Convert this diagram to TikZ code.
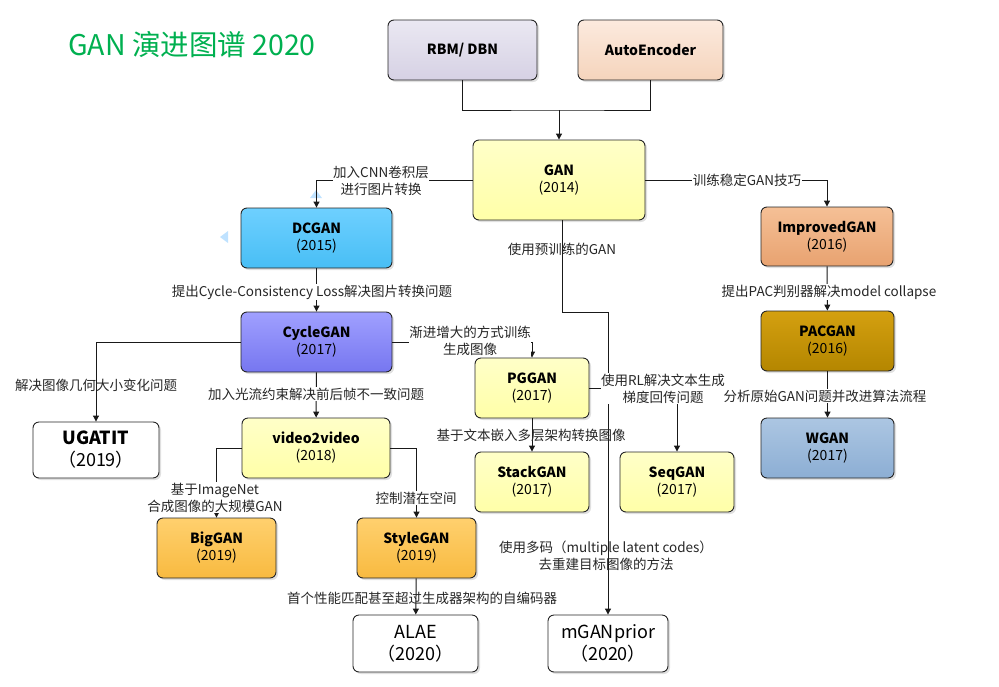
\documentclass[tikz,border=0pt]{standalone}
\usepackage{fontspec}
\setmainfont{Noto Sans CJK SC}
\usetikzlibrary{arrows.meta,shadows}
\definecolor{titlegreen}{HTML}{00B050}
\begin{document}
\begin{tikzpicture}[x=1pt,y=-1pt,
  box/.style={draw=black!85, line width=0.9pt, rounded corners=6pt, align=center, inner sep=0pt,
    font=\fontsize{14}{17}\selectfont,
    drop shadow={shadow xshift=2pt, shadow yshift=-2pt, fill=black, opacity=0.12}},
  bigbox/.style={box, font=\fontsize{18}{22}\selectfont},
  lbl/.style={font=\fontsize{13.5}{17}\selectfont, align=center, inner sep=0.5pt, text=black!85},
  wl/.style={lbl, fill=white},
  conn/.style={line width=1pt, draw=black!90},
  arr/.style={conn, -{Triangle[width=6pt,length=6pt]}},
  tri/.style={fill=blue!45!cyan!25, draw=none},
]
\useasboundingbox (0,0) rectangle (999,686);

% title
\node[font=\fontsize{28.5}{31}\selectfont, text=titlegreen, inner sep=0pt] (title) at (192,45) {GAN 演进图谱 2020};

% nodes
\node[box, top color={rgb,255:red,234;green,232;blue,242}, bottom color={rgb,255:red,214;green,209;blue,228},
  minimum width=149, minimum height=60] (rbm) at (462.5,50) {\bfseries RBM/ DBN};
\node[box, top color={rgb,255:red,252;green,234;blue,222}, bottom color={rgb,255:red,245;green,212;blue,188},
  minimum width=145, minimum height=60] (ae) at (650.5,50) {\bfseries AutoEncoder};
\node[box, top color={rgb,255:red,255;green,255;blue,200}, bottom color={rgb,255:red,255;green,255;blue,168},
  minimum width=172, minimum height=80] (gan) at (559,180) {{\bfseries GAN}\\(2014)};
\node[box, top color={rgb,255:red,110;green,208;blue,255}, bottom color={rgb,255:red,72;green,190;blue,245},
  minimum width=151, minimum height=60] (dcgan) at (316.5,238) {{\bfseries DCGAN}\\(2015)};
\node[box, top color={rgb,255:red,160;green,160;blue,255}, bottom color={rgb,255:red,118;green,118;blue,240},
  minimum width=151, minimum height=60] (cycle) at (316.5,342) {{\bfseries CycleGAN}\\(2017)};
\node[bigbox, fill=white, minimum width=126, minimum height=56] (ugatit) at (96,450) {{\bfseries UGATIT}\\（2019）};
\node[box, top color={rgb,255:red,255;green,255;blue,200}, bottom color={rgb,255:red,255;green,255;blue,168},
  minimum width=148, minimum height=60] (v2v) at (316,448) {{\bfseries video2video}\\(2018)};
\node[box, top color={rgb,255:red,255;green,208;blue,110}, bottom color={rgb,255:red,248;green,186;blue,64},
  minimum width=119, minimum height=60] (big) at (216.5,548) {{\bfseries BigGAN}\\(2019)};
\node[box, top color={rgb,255:red,255;green,208;blue,110}, bottom color={rgb,255:red,248;green,186;blue,64},
  minimum width=119, minimum height=60] (style) at (416.5,548) {{\bfseries StyleGAN}\\(2019)};
\node[bigbox, fill=white, minimum width=125, minimum height=57] (alae) at (415.5,643.5) {ALAE\\（2020）};
\node[bigbox, fill=white, minimum width=120, minimum height=57] (mgan) at (608,643.5) {mGANprior\\（2020）};
\node[box, top color={rgb,255:red,255;green,255;blue,200}, bottom color={rgb,255:red,255;green,255;blue,168},
  minimum width=114, minimum height=60] (pg) at (532,388) {{\bfseries PGGAN}\\(2017)};
\node[box, top color={rgb,255:red,255;green,255;blue,200}, bottom color={rgb,255:red,255;green,255;blue,168},
  minimum width=114, minimum height=60] (stack) at (532,482) {{\bfseries StackGAN}\\(2017)};
\node[box, top color={rgb,255:red,255;green,255;blue,200}, bottom color={rgb,255:red,255;green,255;blue,168},
  minimum width=114, minimum height=60] (seq) at (677,482) {{\bfseries SeqGAN}\\(2017)};
\node[box, top color={rgb,255:red,245;green,192;blue,150}, bottom color={rgb,255:red,232;green,162;blue,112},
  minimum width=132, minimum height=59] (impr) at (827,236.5) {{\bfseries ImprovedGAN}\\(2016)};
\node[box, top color={rgb,255:red,212;green,160;blue,16}, bottom color={rgb,255:red,180;green,134;blue,0},
  minimum width=133, minimum height=60] (pac) at (827.5,341) {{\bfseries PACGAN}\\(2016)};
\node[box, top color={rgb,255:red,172;green,198;blue,226}, bottom color={rgb,255:red,140;green,174;blue,212},
  minimum width=133, minimum height=60] (wgan) at (827.5,448) {{\bfseries WGAN}\\(2017)};

% decorative small triangles
\fill[tri] (310,198) -- (322,198) -- (316,190) -- cycle;
\fill[tri] (228,231) -- (228,243) -- (220,237) -- cycle;

% connectors
\coordinate (j) at (559,110);
\draw[conn] (rbm.south) |- (j) -| (ae.south);
\draw[arr] (j) -- (gan.north);

\draw[arr] (gan.west) -| (dcgan.north);
\node[wl] (l1) at (381,180.5) {加入CNN卷积层\\进行图片转换};

\draw[arr] (gan.east) -| (impr.north);
\node[wl] (l2) at (747,180) {训练稳定GAN技巧};

\coordinate (g1) at (562,312);
\draw[arr] ([xshift=3pt]gan.south) -- (g1) -| (mgan.north);
\node[lbl] (l3) at (562,249) {使用预训练的GAN};
\node[lbl] (l4) at (606,555.5) {使用多码（multiple latent codes）\\去重建目标图像的方法};

\draw[arr] (dcgan) -- (cycle);
\node[wl] (l5) at (312,292) {提出Cycle-Consistency Loss解决图片转换问题};

\draw[arr] (cycle.west) -| (ugatit.north);
\node[lbl] (l6) at (96,385) {解决图像几何大小变化问题};

\draw[arr] (cycle) -- (v2v);
\node[wl] (l7) at (316,394) {加入光流约束解决前后帧不一致问题};

\draw[arr] (cycle.east) -| (pg.north);
\node[wl, inner sep=0pt] (l8) at (470,341) {渐进增大的方式训练\\生成图像};

\draw[arr] (v2v.west) -| (big.north);
\node[wl] (l9) at (215,497.5) {基于ImageNet\\合成图像的大规模GAN};

\draw[arr] (v2v.east) -| (style.north);
\node[wl] (l10) at (416,498) {控制潜在空间};

\draw[arr] (style) -- (alae);
\node[lbl] (l11) at (422,598) {首个性能匹配甚至超过生成器架构的自编码器};

\draw[arr] (pg) -- (stack);
\node[lbl] (l12) at (531,435) {基于文本嵌入多层架构转换图像};

\draw[arr] (pg.east) -| (seq.north);
\node[wl] (l13) at (663,388.5) {使用RL解决文本生成\\梯度回传问题};

\draw[arr] (impr) -- (pac);
\node[wl] (l14) at (829,292) {提出PAC判别器解决model collapse};

\draw[arr] (pac) -- (wgan);
\node[wl] (l15) at (825,396) {分析原始GAN问题并改进算法流程};
\end{tikzpicture}
\end{document}
